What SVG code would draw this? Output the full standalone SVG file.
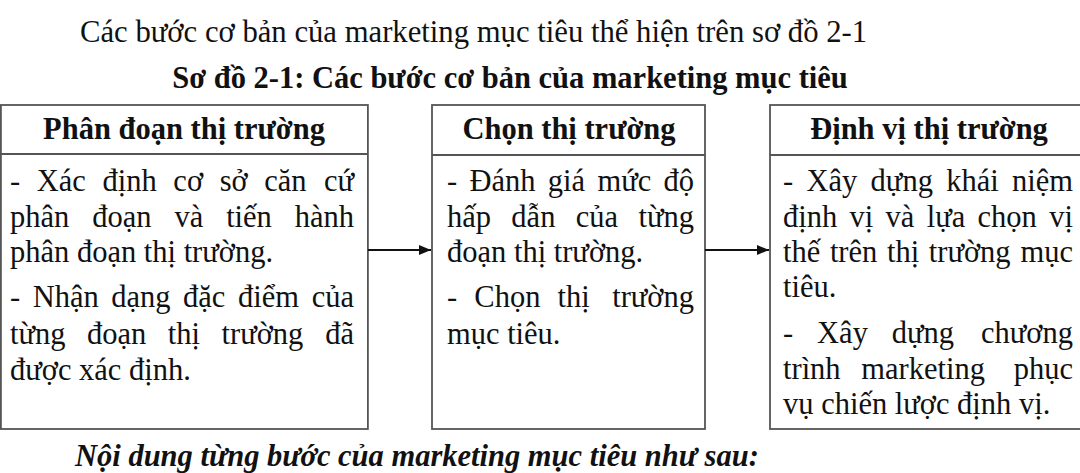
<svg xmlns="http://www.w3.org/2000/svg" width="1080" height="473" viewBox="0 0 1080 473">
<style>
text{font-family:"Liberation Serif","Times New Roman",serif;font-size:30.5px;fill:#111}
.b{font-weight:bold}
.bi{font-weight:bold;font-style:italic}
.e{text-anchor:end}
.box{fill:#fff;stroke:#555;stroke-width:1.8}
.div{stroke:#555;stroke-width:1.8}
.con{stroke:#111;stroke-width:1.8;fill:none}
</style>
<defs>
<marker id="ah" markerWidth="12" markerHeight="10" refX="12" refY="5" orient="auto" markerUnits="userSpaceOnUse">
<path d="M0,0 L12,5 L0,10 Z" fill="#111"/>
</marker>
</defs>
<rect width="1080" height="473" fill="#fff"/>
<text x="80" y="42" style="font-size:30.7px">Các bước cơ bản của marketing mục tiêu thể hiện trên sơ đồ 2-1</text>
<text class="b" x="510" y="88" text-anchor="middle">Sơ đồ 2-1: Các bước cơ bản của marketing mục tiêu</text>

<g id="node-phan-doan">
<rect class="box" x="0.9" y="105" width="367" height="324"/>
<line class="div" x1="0.9" y1="154" x2="367.9" y2="154"/>
<text class="b" x="184" y="139" text-anchor="middle">Phân đoạn thị trường</text>
<text y="191" style="word-spacing:9px"><tspan x="10">- Xác định cơ sở căn</tspan><tspan class="e" x="354">cứ</tspan></text>
<text y="227" style="word-spacing:15.3px"><tspan x="10">phân đoạn và tiến</tspan><tspan class="e" x="354">hành</tspan></text>
<text x="10" y="262">phân đoạn thị trường.</text>
<text y="307" style="word-spacing:4.9px"><tspan x="10">- Nhận dạng đặc điểm</tspan><tspan class="e" x="354">của</tspan></text>
<text y="344" style="word-spacing:13.9px"><tspan x="10">từng đoạn thị trường</tspan><tspan class="e" x="354">đã</tspan></text>
<text x="10" y="380">được xác định.</text>
</g>

<g id="node-chon">
<rect class="box" x="432" y="105" width="273" height="324"/>
<line class="div" x1="432" y1="155" x2="705" y2="155"/>
<text class="b" x="569" y="139" text-anchor="middle">Chọn thị trường</text>
<text y="191" style="word-spacing:4.7px"><tspan x="447">- Đánh giá mức</tspan><tspan class="e" x="694">độ</tspan></text>
<text y="227" style="word-spacing:12.7px"><tspan x="447">hấp dẫn của</tspan><tspan class="e" x="694">từng</tspan></text>
<text x="447" y="262">đoạn thị trường.</text>
<text y="307" style="word-spacing:9.5px"><tspan x="447">- Chọn thị</tspan><tspan class="e" x="694">trường</tspan></text>
<text x="447" y="344">mục tiêu.</text>
</g>

<g id="node-dinh-vi">
<rect class="box" x="770" y="105" width="330" height="324"/>
<line class="div" x1="770" y1="155" x2="1080" y2="155"/>
<text class="b" x="929" y="139" text-anchor="middle">Định vị thị trường</text>
<text y="191" style="word-spacing:5.7px"><tspan x="783">- Xây dựng khái</tspan><tspan class="e" x="1073">niệm</tspan></text>
<text y="227" style="word-spacing:4.7px"><tspan x="783">định vị và lựa chọn</tspan><tspan class="e" x="1073">vị</tspan></text>
<text y="262" style="word-spacing:2px"><tspan x="783">thế trên thị trường</tspan><tspan class="e" x="1073">mục</tspan></text>
<text x="783" y="297">tiêu.</text>
<text y="343" style="word-spacing:16.3px"><tspan x="783">- Xây dựng</tspan><tspan class="e" x="1073">chương</tspan></text>
<text y="379" style="word-spacing:13.1px"><tspan x="783">trình marketing</tspan><tspan class="e" x="1073">phục</tspan></text>
<text x="783" y="414">vụ chiến lược định vị.</text>
</g>

<g id="connectors">
<line class="con" x1="368" y1="250" x2="431" y2="250" marker-end="url(#ah)"/>
<line class="con" x1="705" y1="250" x2="769" y2="250" marker-end="url(#ah)"/>
</g>

<text class="bi" x="75" y="466">Nội dung từng bước của marketing mục tiêu như sau:</text>
</svg>
